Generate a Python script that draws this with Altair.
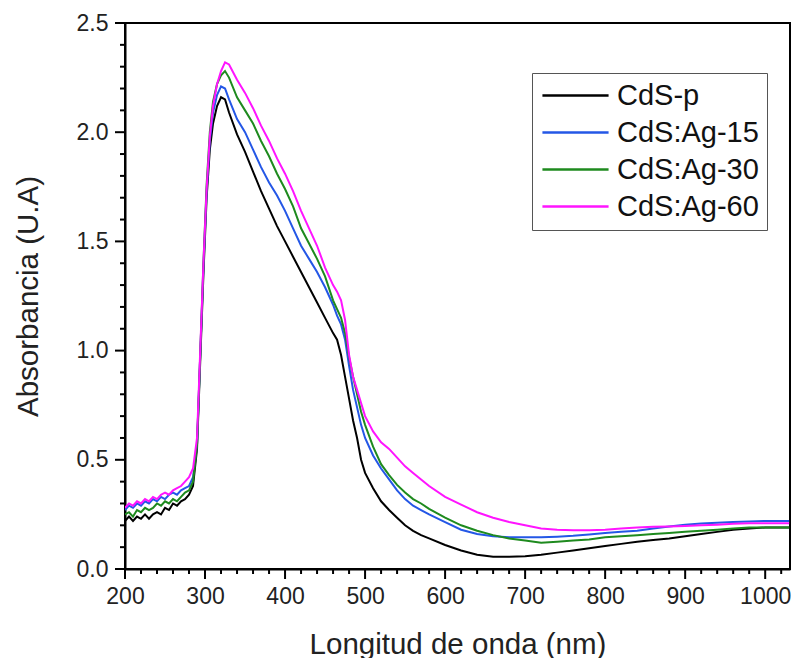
import altair as alt
import pandas as pd

# Wavelength grid (nm)
wavelength = [200, 205, 210, 215, 220, 225, 230, 235, 240, 245, 250, 255, 260, 265, 270, 275, 280, 285,
              290, 294, 298, 302, 306, 310, 315, 320, 325, 330, 340, 350, 360, 370, 380, 390, 400,
              410, 420, 430, 440, 450, 460, 465, 470, 475, 480, 485, 490, 495, 500, 510, 520, 530,
              540, 550, 560, 570, 580, 600, 620, 640, 660, 680, 700, 720, 740, 760, 780, 800, 820,
              840, 860, 880, 900, 920, 940, 960, 980, 1000, 1030]

cds_p = [0.22, 0.24, 0.22, 0.24, 0.23, 0.25, 0.23, 0.25, 0.26, 0.25, 0.28, 0.27, 0.30, 0.29, 0.31, 0.32, 0.34, 0.38,
         0.55, 0.95, 1.35, 1.70, 1.92, 2.04, 2.12, 2.16, 2.15, 2.09, 1.99, 1.91, 1.82, 1.73, 1.65, 1.57, 1.50,
         1.43, 1.36, 1.29, 1.22, 1.15, 1.08, 1.05, 0.98, 0.88, 0.78, 0.68, 0.60, 0.50, 0.44, 0.37, 0.31, 0.27,
         0.235, 0.20, 0.175, 0.155, 0.14, 0.11, 0.085, 0.065, 0.056, 0.056, 0.058, 0.065, 0.075, 0.085, 0.095, 0.105, 0.115,
         0.125, 0.133, 0.14, 0.15, 0.16, 0.17, 0.18, 0.185, 0.19, 0.19]

cds_ag15 = [0.27, 0.29, 0.28, 0.30, 0.29, 0.31, 0.30, 0.32, 0.31, 0.33, 0.32, 0.34, 0.35, 0.34, 0.36, 0.37, 0.38, 0.42,
            0.57, 0.98, 1.38, 1.73, 1.96, 2.09, 2.17, 2.21, 2.20, 2.15, 2.06, 2.00, 1.92, 1.84, 1.77, 1.71, 1.64,
            1.56, 1.48, 1.42, 1.36, 1.29, 1.21, 1.16, 1.12, 1.05, 0.93, 0.82, 0.74, 0.66, 0.60, 0.52, 0.46, 0.41,
            0.36, 0.32, 0.29, 0.27, 0.25, 0.215, 0.18, 0.16, 0.15, 0.145, 0.145, 0.145, 0.148, 0.152, 0.158, 0.165, 0.17,
            0.175, 0.185, 0.195, 0.203, 0.208, 0.212, 0.215, 0.218, 0.22, 0.22]

cds_ag30 = [0.25, 0.26, 0.24, 0.27, 0.26, 0.28, 0.27, 0.28, 0.30, 0.29, 0.31, 0.30, 0.32, 0.31, 0.33, 0.35, 0.36, 0.40,
            0.57, 0.98, 1.40, 1.76, 2.00, 2.14, 2.22, 2.26, 2.28, 2.25, 2.16, 2.10, 2.04, 1.96, 1.89, 1.81, 1.74,
            1.66, 1.56, 1.49, 1.42, 1.34, 1.23, 1.19, 1.15, 1.08, 0.97, 0.88, 0.80, 0.72, 0.66, 0.56, 0.48, 0.43,
            0.385, 0.35, 0.32, 0.30, 0.275, 0.235, 0.20, 0.175, 0.155, 0.14, 0.13, 0.12, 0.125, 0.13, 0.135, 0.145, 0.15,
            0.155, 0.16, 0.165, 0.17, 0.175, 0.18, 0.185, 0.19, 0.19, 0.19]

cds_ag60 = [0.28, 0.30, 0.29, 0.31, 0.30, 0.32, 0.31, 0.33, 0.32, 0.34, 0.35, 0.34, 0.36, 0.37, 0.38, 0.40, 0.42, 0.46,
            0.60, 1.00, 1.40, 1.74, 1.98, 2.12, 2.22, 2.28, 2.32, 2.31, 2.24, 2.18, 2.11, 2.03, 1.96, 1.88, 1.81,
            1.73, 1.64, 1.56, 1.48, 1.38, 1.30, 1.27, 1.23, 1.14, 0.98, 0.88, 0.82, 0.76, 0.70, 0.63, 0.58, 0.55,
            0.51, 0.47, 0.44, 0.41, 0.38, 0.33, 0.295, 0.26, 0.235, 0.215, 0.20, 0.185, 0.18, 0.178, 0.178, 0.18, 0.185,
            0.19, 0.193, 0.195, 0.197, 0.20, 0.203, 0.207, 0.21, 0.21, 0.21]

series_names = ["CdS-p", "CdS:Ag-15", "CdS:Ag-30", "CdS:Ag-60"]
series_colors = ["#000000", "#2457E6", "#1E8A1E", "#FF14FF"]
series_values = [cds_p, cds_ag15, cds_ag30, cds_ag60]

x_major = [200, 300, 400, 500, 600, 700, 800, 900, 1000]
x_minor = [v for v in range(200, 1031, 20) if v % 100 != 0]
y_major = [0.0, 0.5, 1.0, 1.5, 2.0, 2.5]
y_minor = [round(v * 0.1, 1) for v in range(0, 26) if v % 5 != 0]

rows = []
for name, vals in zip(series_names, series_values):
    for i, (w, a) in enumerate(zip(wavelength, vals)):
        rows.append({"wl": w, "abs": a, "serie": name, "order": i})
df = pd.DataFrame(rows)

W, H = 665, 546
FONT = "Liberation Sans"
xscale = alt.Scale(domain=[200, 1031], nice=False, zero=False)
yscale = alt.Scale(domain=[0, 2.5], nice=False, zero=True)

lines = alt.Chart(df).mark_line(strokeWidth=2, clip=True).encode(
    x=alt.X("wl:Q", scale=xscale,
            axis=alt.Axis(values=x_major, format="d", orient="bottom", grid=False,
                          ticks=False, labelPadding=16, labelFlush=False,
                          title="Longitud de onda (nm)", titleFontSize=29.5,
                          titleBaseline="alphabetic", titleY=84)),
    y=alt.Y("abs:Q", scale=yscale,
            axis=alt.Axis(values=y_major, format=".1f", orient="left", grid=False,
                          ticks=False, labelPadding=17, labelFlush=False,
                          title="Absorbancia (U.A)", titleFontSize=29.5,
                          titleBaseline="alphabetic", titleX=-88)),
    color=alt.Color("serie:N",
                    scale=alt.Scale(domain=series_names, range=series_colors),
                    legend=alt.Legend(title=None, orient="none", legendX=407, legendY=50,
                                      symbolType="M-5,0H5", symbolSize=175,
                                      symbolStrokeWidth=2.5, symbolOffset=21,
                                      labelFontSize=29, labelFont=FONT, labelOffset=27,
                                      padding=8, rowPadding=7, strokeColor="#555555",
                                      fillColor="white", labelColor="#111111")),
    order="order:Q",
)

def xticks(values, length):
    return alt.Chart(pd.DataFrame({"v": values})).mark_rule(color="black", strokeWidth=2).encode(
        x=alt.X("v:Q", scale=xscale, axis=None),
        y=alt.value(H), y2=alt.value(H + length),
    )

def yticks(values, length):
    return alt.Chart(pd.DataFrame({"v": values})).mark_rule(color="black", strokeWidth=2).encode(
        y=alt.Y("v:Q", scale=yscale, axis=None),
        x=alt.value(0), x2=alt.value(-length),
    )

chart = alt.layer(
    lines, xticks(x_major, 10), xticks(x_minor, 5), yticks(y_major, 10), yticks(y_minor, 5)
).resolve_axis(x="independent", y="independent").properties(
    width=W, height=H,
    padding={"left": 13, "top": 12, "right": 0, "bottom": 0},
).configure_view(
    stroke="black", strokeWidth=2
).configure_axis(
    domainColor="black", domainWidth=2,
    labelFont=FONT, labelFontSize=23, labelColor="#222222",
    titleFont=FONT, titleFontWeight="normal", titleColor="#222222",
)

chart.save("out.html", embed_options={"renderer": "svg", "actions": False})
